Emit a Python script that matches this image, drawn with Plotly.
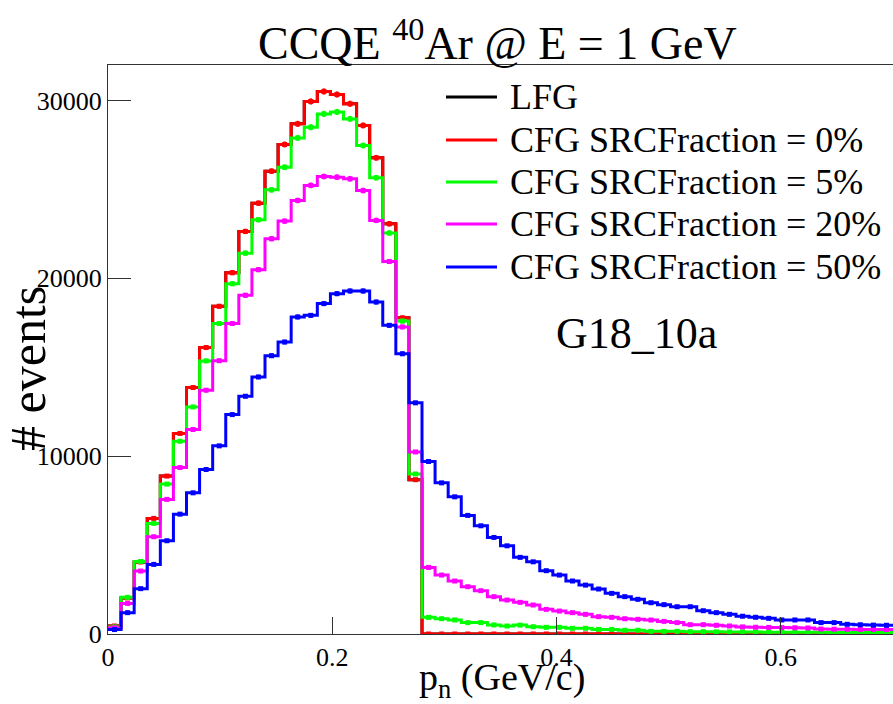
import plotly.graph_objects as go

# ---------------- data ----------------
n_bins = 60
x_min, x_max = 0.0, 0.7

lfg_label = "LFG"
series_labels = ["CFG SRCFraction = 0%", "CFG SRCFraction = 5%",
                 "CFG SRCFraction = 20%", "CFG SRCFraction = 50%"]

cfg_0 = [450, 2030, 4050, 6500, 8880, 11280, 13860, 16110, 18430, 20320,
         22640, 24230, 26030, 27530, 28690, 29950, 30510, 30340, 29820, 28600,
         26780, 23070, 17780, 8680, 0, 0, 0, 0, 0, 0,
         0, 0, 0, 0, 0, 0, 0, 0, 0, 0,
         0, 0, 0, 0, 0, 0, 0, 0, 0, 0,
         0, 0, 0, 0, 0, 0, 0, 0, 0, 0]

cfg_5 = [400, 2060, 4080, 6220, 8430, 10840, 12770, 15360, 17460, 19700,
         21420, 23300, 24980, 26250, 27900, 28500, 29250, 29360, 28970, 27470,
         25660, 22550, 17600, 9000, 935, 860, 790, 640, 640, 510,
         450, 500, 410, 375, 375, 320, 320, 260, 260, 210,
         210, 150, 150, 150, 130, 130, 120, 115, 110, 110,
         105, 100, 100, 95, 95, 90, 90, 85, 85, 80]

cfg_20 = [350, 1720, 3540, 5470, 7570, 9360, 11500, 13710, 15370, 17460,
          19050, 20490, 22230, 23220, 24380, 25230, 25730, 25690, 25600, 24940,
          23260, 20950, 17270, 10240, 3745, 3315, 2980, 2660, 2435, 2100,
          1910, 1780, 1630, 1385, 1290, 1200, 1105, 975, 935, 860,
          825, 785, 710, 640, 525, 525, 490, 450, 400, 380,
          370, 360, 350, 340, 280, 270, 265, 260, 255, 250]

cfg_50 = [250, 1200, 2550, 3915, 5245, 6740, 7940, 9250, 10580, 12340,
          13370, 14455, 15650, 16420, 17830, 17920, 18580, 19140, 19290, 19290,
          18670, 17360, 15760, 13000, 9700, 8500, 7715, 6670, 6085, 5430,
          4960, 4310, 4060, 3560, 3315, 2980, 2750, 2530, 2285, 2100,
          1950, 1760, 1650, 1535, 1535, 1310, 1200, 1105, 1000, 940,
          880, 790, 790, 790, 640, 640, 545, 520, 500, 490]

# LFG is drawn first and lies completely hidden beneath the CFG 0% curve
lfg = list(cfg_0)

x_tick_vals = [0, 0.2, 0.4, 0.6]
x_tick_text = ["0", "0.2", "0.4", "0.6"]
y_tick_vals = [0, 10000, 20000, 30000]
y_tick_text = ["0", "10000", "20000", "30000"]

# ---------------- styling ----------------
W, H = 893, 704
L, R, T, B = 108, 0, 65, 70
FONT = "Liberation Serif"
colors = ["#ff0000", "#00ff00", "#ff00ff", "#0000ff"]

plot_w = W - L - R
plot_h = H - T - B


def px_x(x):
    return (x - L) / plot_w


def px_y(y):
    return (H - B - y) / plot_h


width = (x_max - x_min) / n_bins
edges = [x_min + i * width for i in range(n_bins + 1)]
centers = [x_min + (i + 0.5) * width for i in range(n_bins)]

fig = go.Figure()


def add_hist(vals, color, name, errors=True):
    fig.add_trace(go.Scatter(
        x=edges, y=list(vals) + [vals[-1]], mode="lines",
        line=dict(color=color, width=3, shape="hv"),
        name=name, showlegend=False, hoverinfo="skip"))
    if errors:
        fig.add_trace(go.Scatter(
            x=centers, y=vals, mode="markers",
            marker=dict(color=color, size=5, symbol="square"),
            error_y=dict(type="data", array=[v ** 0.5 for v in vals],
                         color=color, thickness=2.5, width=0),
            showlegend=False, hoverinfo="skip"))


add_hist(lfg, "#000000", lfg_label, errors=False)
for vals, col, lab in zip([cfg_0, cfg_5, cfg_20, cfg_50], colors, series_labels):
    add_hist(vals, col, lab)

axis_col = "#333333"
fig.update_xaxes(range=[x_min, x_max], tickvals=x_tick_vals, ticktext=x_tick_text,
                 ticks="inside", ticklen=17, tickwidth=1, tickcolor=axis_col,
                 showline=True, linecolor=axis_col, linewidth=1, mirror=True,
                 showgrid=False, zeroline=False,
                 tickfont=dict(family=FONT, size=26, color="black"))
fig.update_yaxes(range=[0, 32000], tickvals=y_tick_vals, ticktext=y_tick_text,
                 ticks="inside", ticklen=23, tickwidth=1, tickcolor=axis_col,
                 showline=True, linecolor=axis_col, linewidth=1, mirror=False,
                 showgrid=False, zeroline=False,
                 tickfont=dict(family=FONT, size=26, color="black"))

annotations = [
    dict(text="CCQE <sup>40</sup>Ar @ E = 1 GeV", x=px_x(497), y=px_y(40),
         font=dict(family=FONT, size=46, color="black")),
    dict(text="p<sub>n</sub> (GeV/c)", x=px_x(502), y=px_y(680),
         font=dict(family=FONT, size=38, color="black")),
    dict(text="# events", x=px_x(28), y=px_y(369), textangle=-90,
         font=dict(family=FONT, size=50, color="black")),
    dict(text="G18_10a", x=px_x(636), y=px_y(333),
         font=dict(family=FONT, size=44, color="black")),
]

legend_rows_y = [97, 140, 182, 224, 267]
legend_colors = ["#000000"] + colors
legend_labels = [lfg_label] + series_labels
shapes = []
for yy, col, lab in zip(legend_rows_y, legend_colors, legend_labels):
    shapes.append(dict(type="line", xref="paper", yref="paper",
                       x0=px_x(446), x1=px_x(497), y0=px_y(yy), y1=px_y(yy),
                       line=dict(color=col, width=3)))
    annotations.append(dict(text=lab, x=px_x(508), y=px_y(yy), xanchor="left",
                            font=dict(family=FONT, size=36, color="black")))

for a in annotations:
    a.setdefault("xref", "paper")
    a.setdefault("yref", "paper")
    a.setdefault("showarrow", False)
    a.setdefault("xanchor", "center")
    a.setdefault("yanchor", "middle")

fig.update_layout(width=W, height=H,
                  margin=dict(l=L, r=R, t=T, b=B, pad=0, autoexpand=False),
                  paper_bgcolor="white", plot_bgcolor="white",
                  annotations=annotations, shapes=shapes, showlegend=False,
                  font=dict(family=FONT))

fig.write_html(
    "out.html",
    config={"displayModeBar": False},
    post_script="document.body.style.margin='0';"
                "document.body.style.padding='0';"
                "document.body.style.overflow='hidden';",
)
